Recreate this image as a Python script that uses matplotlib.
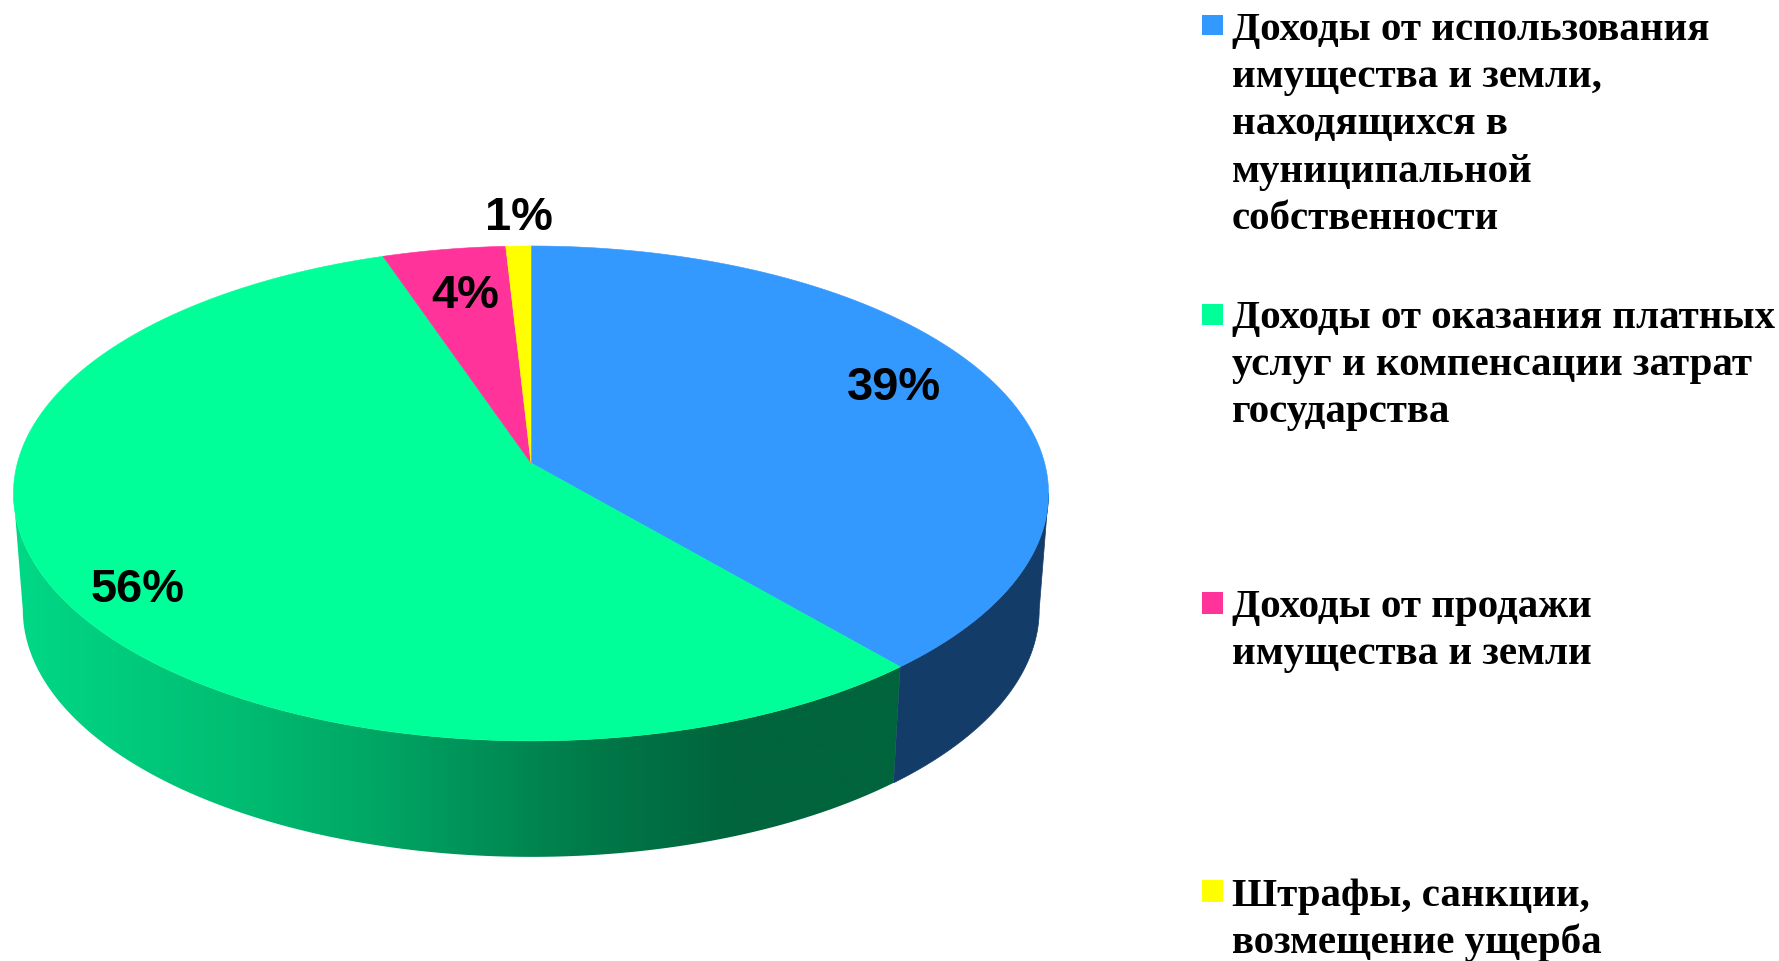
import numpy as np
import matplotlib
matplotlib.use("Agg")
import matplotlib.pyplot as plt
from matplotlib.colors import LinearSegmentedColormap
from matplotlib.patches import Polygon, Rectangle

# Data
values = [38.7, 56.09, 4.33, 0.88]
pct_labels = ["39%", "56%", "4%", "1%"]
legend_lines = [
    ["Доходы от использования", "имущества и земли,", "находящихся в", "муниципальной", "собственности"],
    ["Доходы от оказания платных", "услуг и компенсации затрат", "государства"],
    ["Доходы от продажи", "имущества и земли"],
    ["Штрафы, санкции,", "возмещение ущерба"],
]
top_colors = ["#3399FF", "#00FF99", "#FF3399", "#FFFF00"]
blue_side = "#143C68"

# Layout (pixels)
APEX_X, APEX_Y = 531.0, 463.0
A, B, K = 513.6, 243.7, 0.123
LOW_Y, LOW_SCALE = 579.0, 0.982
label_pos = [(894, 388.5), (138, 590.5), (465, 296.5), (518.5, 217.5)]
legend_base = [40, 328, 617, 906]
swatch_y = [(15, 35), (304, 325), (592, 614), (880, 902)]
LINE_PITCH = 47.2

fig = plt.figure(figsize=(17.79, 9.61), dpi=100, facecolor="white")
ax = fig.add_axes([0, 0, 1, 1])


def top_pt(t):
    d = 1 + K * np.cos(t)
    return APEX_X + A * np.sin(t) / d, APEX_Y - B * np.cos(t) / d


def low_pt(t):
    d = 1 + K * np.cos(t)
    return APEX_X + LOW_SCALE * A * np.sin(t) / d, LOW_Y - B * np.cos(t) / d


fracs = np.cumsum([0] + values) / sum(values)
angles = fracs * 2 * np.pi
sil_r = np.arccos(-K)
sil_l = 2 * np.pi - sil_r


def side_poly(t0, t1):
    t = np.linspace(t0, t1, 300)
    xt, yt = top_pt(t)
    xb, yb = low_pt(t[::-1])
    return np.column_stack([np.r_[xt, xb], np.r_[yt, yb]])


# Side faces
ax.add_patch(Polygon(side_poly(sil_r, angles[1]), closed=True, fc=blue_side, ec=blue_side, lw=0.5))

GX0, GX1 = 10, 920
stops_x = [10, 230, 380, 500, 600, 733, 920]
stops_c = ["#00D986", "#00BE73", "#00A564", "#008C55", "#007848", "#00643C", "#00643C"]
pos = [(x - GX0) / (GX1 - GX0) for x in stops_x]
cmap = LinearSegmentedColormap.from_list("side", list(zip(pos, stops_c)))
grad = np.linspace(0, 1, 512).reshape(1, -1)
im = ax.imshow(grad, extent=(GX0, GX1, 900, 400), cmap=cmap, aspect="auto", interpolation="bilinear", zorder=2)
green_side = Polygon(side_poly(angles[1], sil_l), closed=True, transform=ax.transData, fc="none", ec="none")
ax.add_patch(green_side)
im.set_clip_path(green_side)

# Top faces
for i, c in enumerate(top_colors):
    t = np.linspace(angles[i], angles[i + 1], 300)
    x, y = top_pt(t)
    pts = np.column_stack([np.r_[APEX_X, x], np.r_[APEX_Y, y]])
    ax.add_patch(Polygon(pts, closed=True, fc=c, ec=c, lw=0.4, zorder=3))

for (x, y), s in zip(label_pos, pct_labels):
    ax.text(x, y, s, ha="center", va="center", fontsize=33.8, fontweight="bold",
            family="Liberation Sans", color="black", zorder=5)

# Legend
for lines, base, (y0, y1), c in zip(legend_lines, legend_base, swatch_y, top_colors):
    ax.add_patch(Rectangle((1202, y0), 21, y1 - y0, fc=c, ec="none", zorder=4))
    for j, line in enumerate(lines):
        ax.text(1232, base + j * LINE_PITCH, line, ha="left", va="baseline", fontsize=29.55,
                fontweight="bold", family="Liberation Serif", color="black", zorder=5)

ax.set_xlim(0, 1779)
ax.set_ylim(961, 0)
ax.axis("off")
fig.savefig("out.png", dpi=100, facecolor="white")
